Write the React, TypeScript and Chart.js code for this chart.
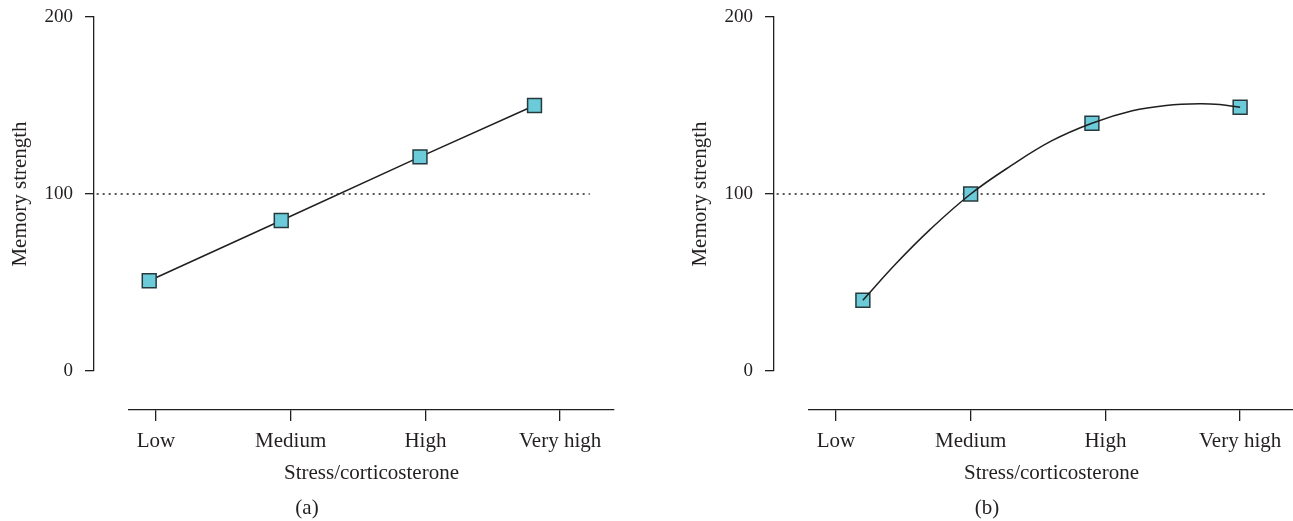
import React, { useEffect, useRef } from 'react';
import { Chart, registerables } from 'chart.js';

Chart.register(...registerables);

// ---------- data ----------
const categories = ['Low', 'Medium', 'High', 'Very high'];
const yTickValues = [0, 100, 200];
const baselineValue = 100;

// panel (a): linear relation
const panelAX = [-0.05, 0.93, 1.96, 2.81];
const panelAY = [51, 85, 121, 150];
const refAX = [-0.44, 3.22];

// panel (b): inverted-U relation
const panelBX = [0.2, 1.0, 1.9, 3.0];
const panelBY = [40, 100, 140, 149];
const curveBX = [0.2, 0.45, 0.7, 1.0, 1.3, 1.6, 1.9, 2.2, 2.45, 2.7, 2.85, 3.0];
const curveBY = [40, 61, 80, 100, 116, 130, 140, 147, 150, 151, 150.5, 149];
const refBX = [-0.44, 3.19];

// ---------- styles ----------
const INK = '#1f1f1f';
const TEXT = '#231f20';
const FILL = '#6ccbd9';
const EDGE = '#263a3e';
const CANVAS_W = 620;
const CANVAS_H = 521;
const FONT = "'Liberation Serif', 'Times New Roman', serif";
const TITLE_LINE_H = 21 * 1.2;
const X_AXIS_H = CANVAS_H - TITLE_LINE_H - 410;
const Y_AXIS_W = 94;

Chart.defaults.font.family = FONT;
Chart.defaults.color = TEXT;

const zip = (xs: number[], ys: number[]) => xs.map((x, i) => ({ x, y: ys[i] }));

const noOverflow = (s: any) => {
  s.paddingTop = 0;
  s.paddingBottom = 0;
  s.paddingLeft = 0;
  s.paddingRight = 0;
};

function buildConfig(px: number[], py: number[], cx: number[] | null, cy: number[] | null, refX: number[], label: string): any {
  const datasets: any[] = [
    {
      data: refX.map((x) => ({ x, y: baselineValue })),
      borderColor: INK,
      borderWidth: 1.3,
      borderDash: [2, 4],
      pointRadius: 0,
      clip: false,
      order: 3,
      xAxisID: 'x',
      yAxisID: 'y',
    },
    {
      data: zip(px, py),
      showLine: cx == null,
      borderColor: INK,
      borderWidth: 1.5,
      tension: 0,
      pointStyle: 'rect',
      pointRadius: 9.8,
      pointBackgroundColor: FILL,
      pointBorderColor: EDGE,
      pointBorderWidth: 1.5,
      order: 1,
      xAxisID: 'x',
      yAxisID: 'y',
    },
  ];
  if (cx && cy) {
    datasets.push({
      data: zip(cx, cy),
      borderColor: INK,
      borderWidth: 1.5,
      tension: 0.4,
      pointRadius: 0,
      order: 0,
      xAxisID: 'x',
      yAxisID: 'y',
    });
  }
  return {
    type: 'line',
    data: { datasets },
    options: {
      responsive: false,
      animation: false,
      events: [],
      layout: { autoPadding: false, padding: { top: 17, left: 0, right: 6, bottom: 0 } },
      plugins: {
        legend: { display: false },
        tooltip: { enabled: false },
        title: {
          display: true,
          text: label,
          position: 'bottom',
          font: { size: 21, weight: 'normal', lineHeight: 1.2 },
          color: TEXT,
          padding: 0,
        },
      },
      scales: {
        x: {
          type: 'linear',
          axis: 'x',
          position: 'bottom',
          stack: 'xs',
          stackWeight: 485,
          weight: 1,
          min: -0.2,
          max: 3.4,
          afterBuildTicks: (s: any) => {
            s.ticks = categories.map((_, i) => ({ value: i }));
          },
          ticks: {
            callback: (v: any) => categories[Math.round(Number(v))] ?? '',
            font: { size: 21 },
            padding: 8,
            maxRotation: 0,
            autoSkip: false,
            color: TEXT,
          },
          grid: { drawOnChartArea: false, drawTicks: true, tickLength: 11, color: INK, lineWidth: 1.3 },
          border: { display: true, color: INK, width: 1.3 },
          title: {
            display: true,
            text: 'Stress/corticosterone',
            font: { size: 21 },
            color: TEXT,
            padding: { top: 0, bottom: 10 },
          },
          afterFit: (s: any) => {
            s.height = X_AXIS_H;
            noOverflow(s);
          },
        },
        xl: {
          type: 'linear',
          axis: 'x',
          position: 'bottom',
          stack: 'xs',
          stackWeight: 35,
          weight: 0,
          ticks: { display: false },
          grid: { display: false },
          border: { display: false },
          afterFit: (s: any) => {
            s.height = X_AXIS_H;
            noOverflow(s);
          },
        },
        y: {
          type: 'linear',
          axis: 'y',
          position: 'left',
          stack: 'ys',
          stackWeight: 354,
          weight: 1,
          min: 0,
          max: 200,
          afterBuildTicks: (s: any) => {
            s.ticks = yTickValues.map((v) => ({ value: v }));
          },
          ticks: { font: { size: 19 }, padding: 12, color: TEXT },
          grid: { drawOnChartArea: false, drawTicks: true, tickLength: 9, color: INK, lineWidth: 1.3 },
          border: { display: true, color: INK, width: 1.3 },
          title: {
            display: true,
            text: 'Memory strength',
            font: { size: 21 },
            color: TEXT,
            padding: { top: 8, bottom: 0 },
          },
          afterFit: (s: any) => {
            s.width = Y_AXIS_W;
            noOverflow(s);
          },
        },
        yl: {
          type: 'linear',
          axis: 'y',
          position: 'left',
          stack: 'ys',
          stackWeight: 39,
          weight: 0,
          ticks: { display: false },
          grid: { display: false },
          border: { display: false },
          afterFit: (s: any) => {
            s.width = Y_AXIS_W;
            noOverflow(s);
          },
        },
      },
    },
  };
}

function Panel({ left, config }: { left: number; config: () => any }) {
  const ref = useRef<HTMLCanvasElement>(null);
  useEffect(() => {
    const chart = new Chart(ref.current as HTMLCanvasElement, config());
    return () => chart.destroy();
  }, []);
  return (
    <canvas
      ref={ref}
      width={CANVAS_W}
      height={CANVAS_H}
      style={{ position: 'absolute', left, top: 0, width: CANVAS_W, height: CANVAS_H }}
    />
  );
}

export default function App() {
  return (
    <div
      style={{
        position: 'fixed',
        left: 0,
        top: 0,
        width: 1293,
        height: 521,
        overflow: 'hidden',
        background: '#ffffff',
      }}
    >
      <Panel left={0} config={() => buildConfig(panelAX, panelAY, null, null, refAX, '(a)')} />
      <Panel left={680} config={() => buildConfig(panelBX, panelBY, curveBX, curveBY, refBX, '(b)')} />
    </div>
  );
}
